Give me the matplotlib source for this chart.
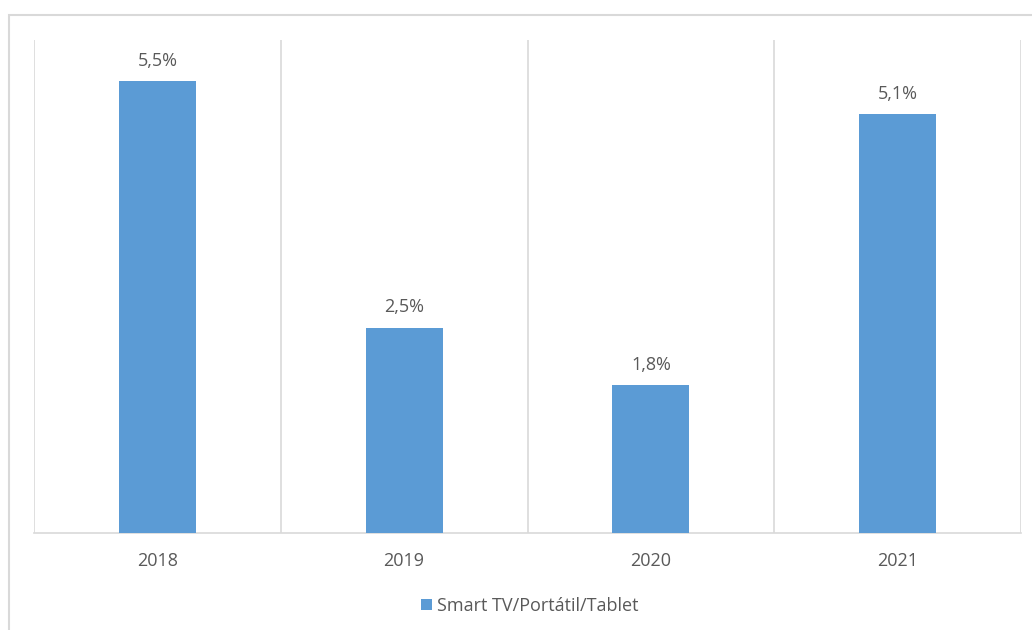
import matplotlib
matplotlib.use("Agg")
import matplotlib.pyplot as plt
from matplotlib.patches import Rectangle

years = ["2018", "2019", "2020", "2021"]
values = [5.5, 2.5, 1.8, 5.1]
series_name = "Smart TV/Portátil/Tablet"

bar_color = "#5B9BD5"
text_color = "#595959"
grid_color = "#D9D9D9"

plt.rcParams["font.family"] = ["Open Sans", "DejaVu Sans"]

W, H = 1032, 630
fig = plt.figure(figsize=(W / 100, H / 100), dpi=100)
fig.patch.set_facecolor("white")

# outer chart-area frame (runs off the right and bottom edges)
fig.patches.append(Rectangle((9 / W, -0.2), 1.2, 1.2 - 15 / H,
                             transform=fig.transFigure, fill=False,
                             edgecolor=grid_color, linewidth=1.5))

ax = fig.add_axes([34 / W, (H - 533) / H, 987 / W, 493 / H])
x = list(range(len(years)))
bars = ax.bar(x, values, width=0.312, color=bar_color, label=series_name, zorder=3)

ax.set_xlim(-0.5, len(years) - 0.5)
ax.set_ylim(0, 6)
ax.set_yticks([])
ax.set_xticks(x)
ax.set_xticklabels(years, fontsize=13, color=text_color)
ax.tick_params(axis="x", length=0, pad=14)

# vertical separators between categories
for b in [i - 0.5 for i in range(len(years) + 1)]:
    ax.axvline(b, color=grid_color, linewidth=1.2, zorder=1)

for s in ["top", "right", "left"]:
    ax.spines[s].set_visible(False)
ax.spines["bottom"].set_color(grid_color)
ax.spines["bottom"].set_linewidth(1.2)

for xi, v in zip(x, values):
    ax.annotate(f"{v:.1f}%".replace(".", ","), (xi, v), xytext=(0, 8),
                textcoords="offset points", ha="center", va="bottom",
                fontsize=13, color=text_color)

leg = fig.legend(handles=[bars], labels=[series_name], loc="center",
                 bbox_to_anchor=(530 / W, (H - 606) / H), frameon=False,
                 fontsize=13, handlelength=0.6, handleheight=0.6,
                 handletextpad=0.3, labelcolor=text_color)

fig.savefig("out.png", dpi=100, facecolor="white")
